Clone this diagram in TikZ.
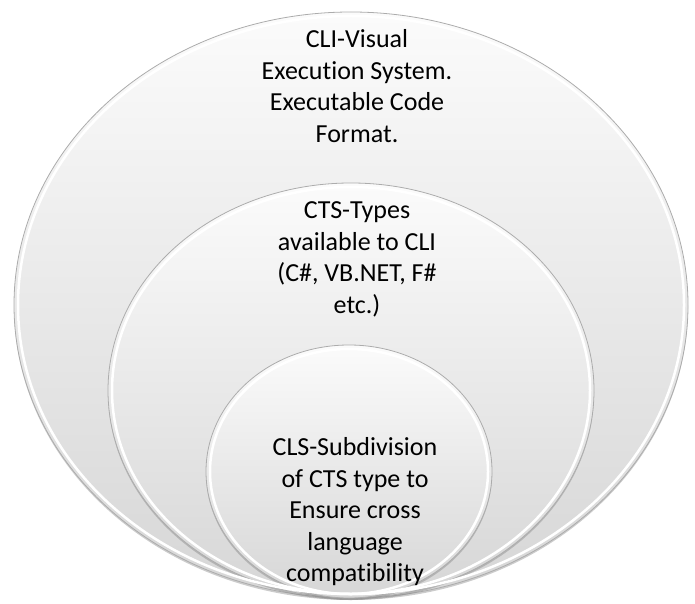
\documentclass[tikz,border=0pt]{standalone}
\usepackage{fontspec}
\setmainfont{Carlito}[Ligatures=NoCommon]
\usepackage{tikz}
\usetikzlibrary{positioning,shapes.geometric,shadows}
\tikzset{
ring/.style={
ellipse,
draw=gray!65,
line width=0.8pt,
inner sep=0pt,
top color=gray!3,
bottom color=gray!32,
drop shadow={opacity=0.4,shadow xshift=0pt,shadow yshift=-2pt}
},
rim/.style={
white,
line width=2.5pt
},
ringtext/.style={
align=center,
inner sep=0pt,
xshift=6pt,
font=\fontsize{26}{31.5}\selectfont
}
}

\begin{document}
\begin{tikzpicture}[x=1pt,y=1pt]
\useasboundingbox (0,0) rectangle (695,603);
\node[ring,minimum width=674pt,minimum height=586pt] (cli) at (351,298) {};
\node[ring,minimum width=486pt,minimum height=415pt] (cts) at (351,212.5) {};
\node[ring,minimum width=286pt,minimum height=253pt] (cls) at (349,131.5) {};

\foreach \n/\rx/\ry in {cli/333/289,cts/239/203.5,cls/139/122.5}
\draw[rim](\n.center) ellipse [x radius=\rx, y radius=\ry];

\node[ringtext,below=18pt of cli.north](clitext){CLI-Visual\\Execution System.\\Executable Code\\Format.};
\node[ringtext,below=19pt of cts.north](ctstext){CTS-Types\\available to CLI\\(C\#, VB.NET, F\#\\etc.)};
\node[ringtext,below=93pt of cls.north](clstext){CLS-Subdivision\\of CTS type to\\Ensure cross\\language\\compatibility};
\end{tikzpicture}
\end{document}
